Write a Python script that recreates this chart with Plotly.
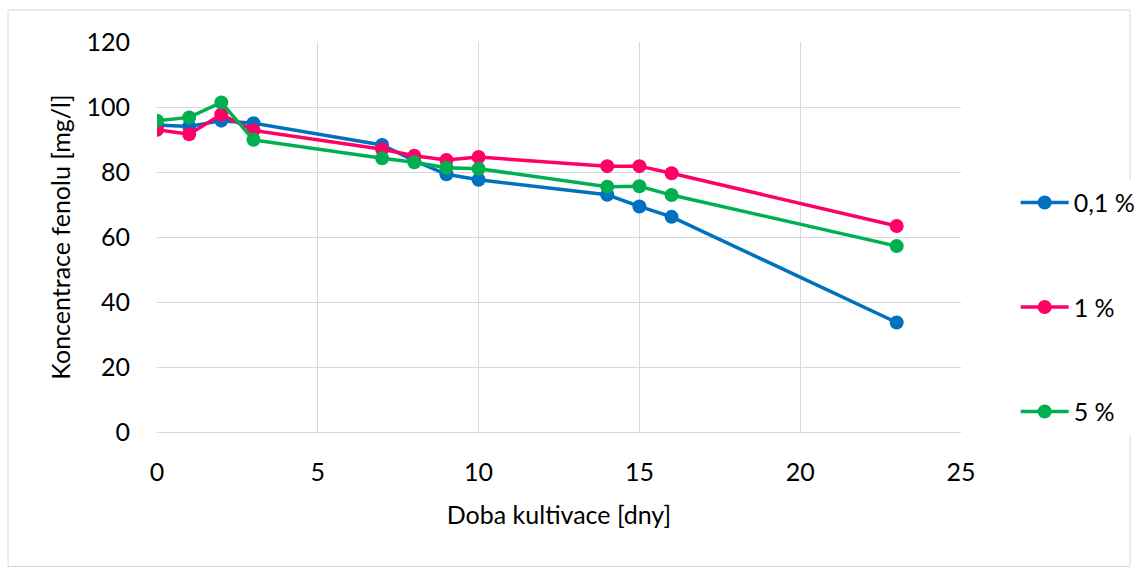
import plotly.graph_objects as go

days = [0, 1, 2, 3, 7, 8, 9, 10, 14, 15, 16, 23]
conc_01 = [94.5, 94.0, 95.8, 95.0, 88.3, 83.5, 79.3, 77.6, 73.0, 69.4, 66.2, 33.7]
conc_1 = [93.0, 91.6, 97.7, 92.8, 87.0, 85.0, 83.7, 84.6, 81.8, 81.8, 79.6, 63.4]
conc_5 = [95.8, 96.8, 101.4, 89.9, 84.2, 83.0, 81.3, 81.0, 75.5, 75.6, 72.9, 57.2]
series_names = ["0,1 %", "1 %", "5 %"]
colors = ["#0070C0", "#FF0066", "#00B050"]

FONT = "Lato"
FS = 25

fig = go.Figure()
for i, (name, ys, c) in enumerate(zip(series_names, [conc_01, conc_1, conc_5], colors)):
    fig.add_trace(go.Scatter(
        x=days, y=ys, mode="lines+markers", name=name,
        line=dict(color=c, width=3.5),
        marker=dict(color=c, size=14),
        legendgroup=f"g{i}",
    ))

fig.update_layout(
    width=1138, height=569,
    margin=dict(l=157, r=177, t=42, b=137, autoexpand=False),
    paper_bgcolor="white", plot_bgcolor="white",
    font=dict(family=FONT, size=FS, color="#000000"),
    showlegend=True,
    legend=dict(
        x=1.068, y=0.32, xanchor="left", yanchor="middle",
        tracegroupgap=69, font=dict(size=FS, family=FONT),
        itemwidth=48,
    ),
    xaxis=dict(
        range=[0, 25], dtick=5, tick0=0,
        showgrid=True, gridcolor="#D9D9D9", gridwidth=1,
        zeroline=False, showline=True, linecolor="#D9D9D9", linewidth=1,
        ticks="", tickfont=dict(size=FS), ticklabelstandoff=18,
        title=dict(text="Doba kultivace [dny]", font=dict(size=FS), standoff=21),
        automargin=False,
    ),
    yaxis=dict(
        range=[0, 120], dtick=20, tick0=0,
        showgrid=True, gridcolor="#D9D9D9", gridwidth=1,
        zeroline=False, showline=False,
        ticks="", tickfont=dict(size=FS), ticklabelstandoff=26,
        title=dict(text="Koncentrace fenolu [mg/l]", font=dict(size=FS), standoff=8),
        automargin=False,
    ),
)

# outer chart frame
fig.add_shape(type="rect", xref="paper", yref="paper",
              x0=-0.1853, x1=1.2102, y0=-0.345, y1=1.0821,
              line=dict(color="#D9D9D9", width=1), fillcolor="rgba(0,0,0,0)", layer="below")

fig.write_html("out.html")
